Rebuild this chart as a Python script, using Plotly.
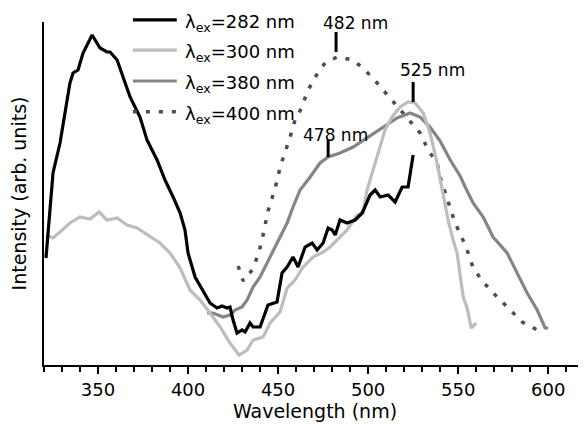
import plotly.graph_objects as go

# ---- data (wavelength nm, intensity arb. units) ----
wl_282 = [321.1, 323.9, 325.0, 328.9, 331.7, 334.4, 336.1, 338.9, 341.7, 346.7, 351.1, 355.0, 356.7, 360.6,
          363.9, 367.8, 373.3, 377.2, 382.8, 387.2, 391.7, 395.6, 398.3, 400.0, 403.9, 407.8, 412.2, 416.1,
          418.9, 421.7, 423.3, 425.0, 427.2, 430.0, 431.7, 434.4, 436.1, 440.0, 442.8, 444.4, 449.4, 452.2,
          455.0, 458.3, 461.1, 465.0, 468.9, 471.7, 475.0, 477.8, 480.0, 481.7, 484.4, 488.3, 492.8, 496.7,
          501.1, 503.9, 506.7, 511.1, 515.0, 518.9, 522.2, 525.0]
int_282 = [107, 165, 192, 222, 255, 282, 292, 295, 312, 330, 317, 313, 313, 305,
           288, 268, 248, 225, 205, 185, 168, 152, 135, 112, 88, 75, 62, 57,
           59, 57, 58, 45, 32, 35, 33, 42, 38, 38, 52, 60, 63, 92,
           98, 108, 98, 118, 122, 115, 122, 137, 135, 130, 145, 142, 145, 152,
           170, 175, 168, 170, 163, 178, 178, 210]

wl_300 = [321.1, 325.0, 328.9, 334.4, 340.0, 345.6, 350.6, 355.0, 360.6, 366.1, 371.7, 378.9, 384.4, 390.0,
          395.6, 401.1, 406.7, 412.2, 417.8, 423.3, 428.3, 432.8, 436.1, 441.7, 445.6, 451.1, 455.0, 459.4,
          463.9, 469.4, 475.0, 478.9, 482.8, 488.3, 493.9, 497.2, 499.4, 505.0, 509.4, 513.3, 517.8, 522.2,
          526.1, 530.6, 534.4, 538.3, 541.7, 544.4, 547.2, 549.4, 551.1, 552.8, 555.0, 557.2, 560.0]
int_300 = [130, 127, 133, 142, 148, 146, 153, 145, 147, 140, 137, 128, 122, 112,
           97, 75, 65, 52, 38, 22, 10, 15, 25, 28, 42, 53, 77, 85,
           98, 108, 113, 118, 125, 135, 150, 152, 175, 208, 235, 248, 258, 263,
           262, 252, 232, 202, 172, 145, 125, 112, 90, 68, 57, 37, 42]

wl_380 = [410.6, 413.9, 419.4, 423.3, 426.1, 430.0, 432.8, 436.1, 440.0, 443.9, 447.2, 451.1, 455.0, 458.3,
          462.2, 467.8, 473.3, 477.8, 484.4, 491.7, 499.4, 508.3, 516.1, 523.3, 528.9, 534.4, 540.0, 545.6,
          551.1, 553.9, 558.3, 563.9, 569.4, 577.2, 582.8, 588.3, 593.9, 598.3, 600.0]
int_380 = [52, 52, 48, 50, 55, 58, 65, 78, 88, 102, 115, 128, 142, 158,
           175, 188, 202, 208, 212, 218, 227, 238, 247, 252, 248, 238, 224, 205,
           189, 178, 162, 148, 128, 112, 92, 72, 55, 37, 37]

wl_400 = [427.8, 430.6, 435.6, 438.9, 441.1, 442.8, 444.4, 447.2, 449.4, 451.1, 453.9, 456.7, 459.4, 463.3,
          466.1, 470.6, 476.1, 482.8, 491.7, 498.3, 505.0, 510.6, 516.7, 522.2, 528.9, 533.3, 538.3, 540.0,
          542.8, 545.6, 548.3, 552.2, 555.6, 558.3, 563.9, 570.6, 577.8, 585.6, 594.0]
int_400 = [99, 84, 95, 110, 125, 140, 154, 170, 184, 198, 212, 228, 245, 258,
           273, 288, 302, 308, 305, 295, 282, 270, 258, 245, 232, 215, 202, 188,
           172, 157, 142, 127, 112, 97, 83, 70, 57, 43, 35]

legend_labels = ["λ<sub>ex</sub>=282 nm", "λ<sub>ex</sub>=300 nm",
                 "λ<sub>ex</sub>=380 nm", "λ<sub>ex</sub>=400 nm"]

# peak labels: (tick x nm, tick y from, tick y to, text x, text y, text)
peak_x = [482.2, 525.0, 477.8]
peak_y0 = [313, 263, 208]
peak_y1 = [333, 283, 225]
peak_tx = [492.8, 535.6, 481.7]
peak_ty = [342, 295, 230]
peak_text = ["482 nm", "525 nm", "478 nm"]

FONT = "DejaVu Sans, Arial, sans-serif"
c_282, c_300, c_380, c_400 = "#000000", "#bdbdbd", "#858585", "#4d4d4d"

fig = go.Figure()
fig.add_trace(go.Scatter(x=wl_400, y=int_400, mode="lines",
                         line=dict(color=c_400, width=3.5, dash="4px,9px"), name=legend_labels[3]))
fig.add_trace(go.Scatter(x=wl_380, y=int_380, mode="lines",
                         line=dict(color=c_380, width=3.2), name=legend_labels[2]))
fig.add_trace(go.Scatter(x=wl_300, y=int_300, mode="lines",
                         line=dict(color=c_300, width=3.2), name=legend_labels[1]))
fig.add_trace(go.Scatter(x=wl_282, y=int_282, mode="lines",
                         line=dict(color=c_282, width=3.2), name=legend_labels[0]))

shapes = []
annotations = []
for px, y0, y1, tx, ty, t in zip(peak_x, peak_y0, peak_y1, peak_tx, peak_ty, peak_text):
    shapes.append(dict(type="line", xref="x", yref="y", x0=px, x1=px, y0=y0, y1=y1,
                       line=dict(color="black", width=3)))
    annotations.append(dict(x=tx, y=ty, xref="x", yref="y", text=t, showarrow=False,
                            font=dict(family=FONT, size=17, color="black"),
                            xanchor="center", yanchor="middle"))

# manual legend (paper coordinates)
leg_colors = [c_282, c_300, c_380, c_400]
leg_dash = ["solid", "solid", "solid", "4px,9px"]
leg_y = [1.006, 0.918, 0.828, 0.738]
for lab, col, dsh, ly in zip(legend_labels, leg_colors, leg_dash, leg_y):
    shapes.append(dict(type="line", xref="paper", yref="paper", x0=0.164, x1=0.245, y0=ly, y1=ly,
                       line=dict(color=col, width=3.5 if dsh != "solid" else 3.2, dash=dsh)))
    annotations.append(dict(x=0.256, y=ly - 0.008, xref="paper", yref="paper", text=lab, showarrow=False,
                            font=dict(family=FONT, size=18, color="black"),
                            xanchor="left", yanchor="middle"))

# page body has an 8px default margin, so the figure is 8px smaller than the window
fig.update_layout(
    width=578, height=416,
    margin=dict(l=36, r=0, t=14, b=59, autoexpand=False),
    paper_bgcolor="white", plot_bgcolor="white",
    showlegend=False,
    font=dict(family=FONT, size=18, color="black"),
    shapes=shapes, annotations=annotations,
    xaxis=dict(range=[320, 621], showgrid=False, zeroline=False, automargin=False,
               showline=True, linecolor="black", linewidth=2,
               ticks="outside", ticklen=7, tickwidth=1.5, tickcolor="black",
               tick0=300, dtick=50, tickfont=dict(size=18),
               minor=dict(dtick=10, ticks="outside", ticklen=5, tickwidth=1.5, tickcolor="black"),
               title=dict(text="Wavelength (nm)", font=dict(size=19), standoff=6)),
    yaxis=dict(range=[0, 343], showgrid=False, zeroline=False, automargin=False,
               showline=True, linecolor="black", linewidth=2,
               ticks="", showticklabels=False,
               title=dict(text="Intensity (arb. units)", font=dict(size=19), standoff=12)),
)

fig.write_html("out.html")
